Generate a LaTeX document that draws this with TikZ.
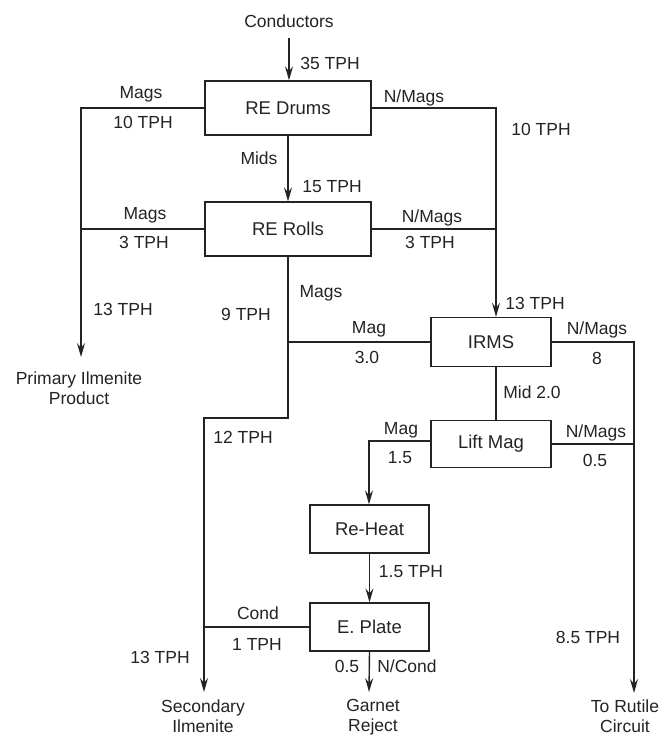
\documentclass[tikz,border=0pt]{standalone}
\usepackage{fontspec}
\setmainfont{Liberation Sans}
\usetikzlibrary{arrows.meta}
\definecolor{ink}{RGB}{35,35,35}
\tikzset{
  box/.style={draw=ink, line width=1.3pt, minimum width=#1, inner sep=0pt, font=\fontsize{18.5}{21}\selectfont, text=ink},
  lbl/.style={inner sep=0pt, text height=13pt, text depth=0pt, font=\fontsize{17.5}{21}\selectfont, text=ink},
  mlbl/.style={inner sep=0pt, align=center, font=\fontsize{17.5}{20.5}\selectfont, text=ink},
  flow/.style={draw=ink, line width=1.4pt},
  arr/.style={flow, -{Stealth[length=14pt,width=8pt,inset=5pt]}}
}
\begin{document}
\begin{tikzpicture}[x=1pt,y=-1pt]
\useasboundingbox (0,0) rectangle (662,738);
% process boxes
\node[box=166pt, minimum height=54pt] (drums) at (288,108) {RE Drums};
\node[box=166pt, minimum height=54pt] (rolls) at (288,229) {RE Rolls};
\node[box=120pt, minimum height=49pt] (irms) at (491,342) {IRMS};
\node[box=120pt, minimum height=47pt] (lift) at (491,444) {Lift Mag};
\node[box=119pt, minimum height=48pt] (reheat) at (369.5,529) {Re-Heat};
\node[box=119pt, minimum height=48pt] (eplate) at (369.5,627) {E. Plate};
% end labels
\node[mlbl] (cond) at (289,21) {Conductors};
\node[mlbl] (pil) at (79,388) {Primary Ilmenite\\Product};
\node[mlbl] (sil) at (203,716) {Secondary\\Ilmenite};
\node[mlbl] (gar) at (373,717) {Garnet\\Reject};
\node[mlbl] (rut) at (625,716) {To Rutile\\Circuit};
% junction coordinates
\coordinate (cin) at (289,38);
\coordinate (lcol) at (81,108);
\coordinate (pilin) at (81,357);
\coordinate (rcol) at (496,108);
\coordinate (mcol) at (288,418);
\coordinate (scol) at (204,418);
\coordinate (silin) at (204,692);
\coordinate (nmcol) at (634,342);
\coordinate (rutin) at (634,693);
\coordinate (magcol) at (369,441);
\coordinate (garin) at (369,692);
% connectors
\draw[arr] (cin) -- (cin |- drums.north);
\draw[arr] (drums.west) -- (lcol) -- (pilin);
\draw[flow] (rolls.west) -- (rolls.west -| lcol);
\draw[arr] (drums.east) -- (rcol) -- (rcol |- irms.north);
\draw[flow] (rolls.east) -- (rolls.east -| rcol);
\draw[arr] (drums.south) -- (rolls.north);
\draw[arr] (rolls.south) -- (mcol) -- (scol) -- (silin);
\draw[flow] (irms.west) -- (irms.west -| mcol);
\draw[flow] (eplate.west) -- (eplate.west -| scol);
\draw[arr] (irms.east) -- (nmcol) -- (rutin);
\draw[flow] (lift.east) -- (lift.east -| nmcol);
\draw[flow] (irms.south -| rcol) -- (lift.north -| rcol);
\draw[arr] (lift.west |- magcol) -- (magcol) -- (magcol |- reheat.north);
\draw[arr] (reheat.south) -- (eplate.north);
\draw[arr] (eplate.south) -- (garin);
% flow labels
\node[lbl] (l1) at (330,63) {35 TPH};
\node[lbl] (l2) at (141,92) {Mags};
\node[lbl] (l3) at (143,122) {10 TPH};
\node[lbl] (l4) at (414,96) {N/Mags};
\node[lbl] (l5) at (541,129) {10 TPH};
\node[lbl] (l6) at (259,158) {Mids};
\node[lbl] (l7) at (332,186) {15 TPH};
\node[lbl] (l8) at (145,213) {Mags};
\node[lbl] (l9) at (144,242) {3 TPH};
\node[lbl] (l10) at (432,216) {N/Mags};
\node[lbl] (l11) at (430,242) {3 TPH};
\node[lbl] (l12) at (123,309) {13 TPH};
\node[lbl] (l13) at (321,291) {Mags};
\node[lbl] (l14) at (246,314) {9 TPH};
\node[lbl] (l15) at (535,303) {13 TPH};
\node[lbl] (l16) at (369,327) {Mag};
\node[lbl] (l17) at (367,357) {3.0};
\node[lbl] (l18) at (597,328) {N/Mags};
\node[lbl] (l19) at (597,358) {8};
\node[lbl] (l20) at (532,392) {Mid 2.0};
\node[lbl] (l21) at (243,437) {12 TPH};
\node[lbl] (l22) at (401,428) {Mag};
\node[lbl] (l23) at (400,457) {1.5};
\node[lbl] (l24) at (596,431) {N/Mags};
\node[lbl] (l25) at (595,460) {0.5};
\node[lbl] (l26) at (411,571) {1.5 TPH};
\node[lbl] (l27) at (258,613) {Cond};
\node[lbl] (l28) at (257,644) {1 TPH};
\node[lbl] (l29) at (160,657) {13 TPH};
\node[lbl] (l30) at (347,666) {0.5};
\node[lbl] (l31) at (407,666) {N/Cond};
\node[lbl] (l32) at (588,637) {8.5 TPH};
\end{tikzpicture}
\end{document}
